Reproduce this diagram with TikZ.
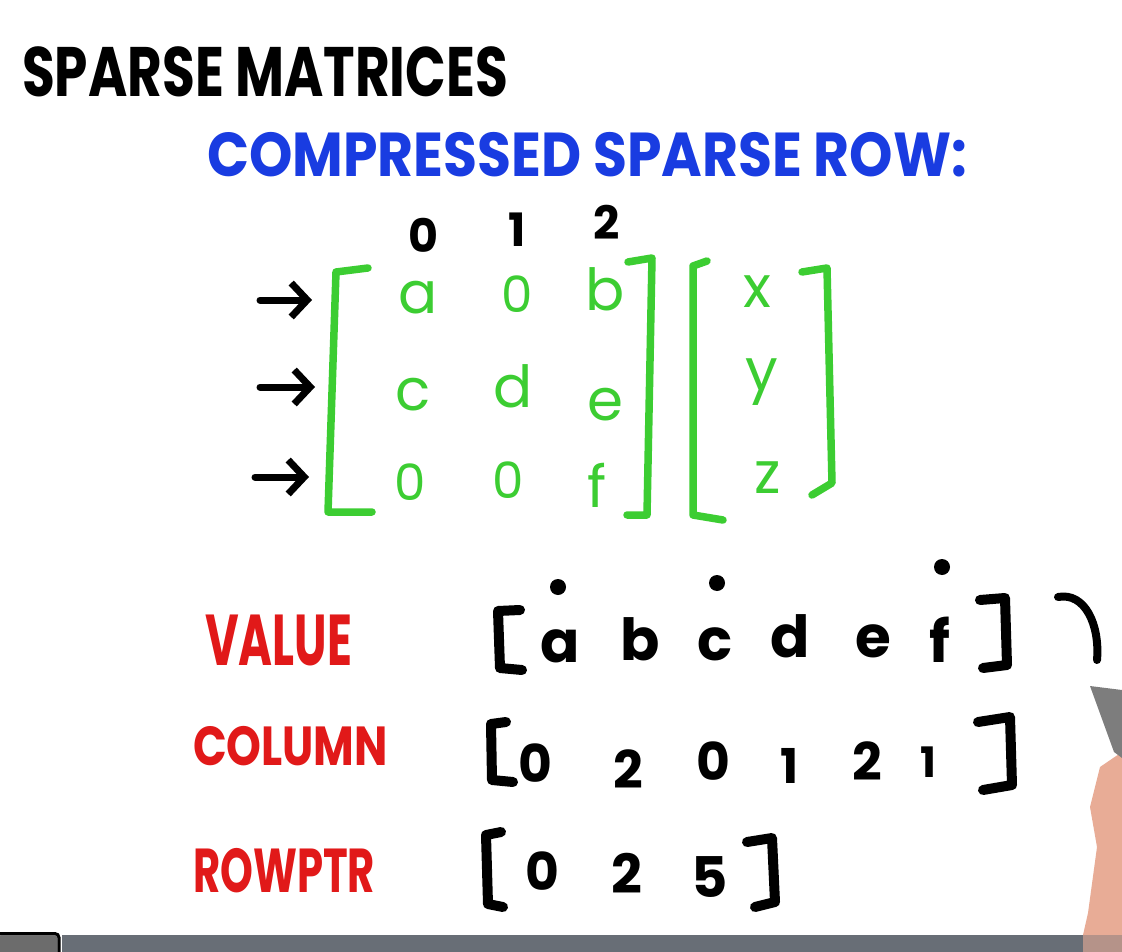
\documentclass[tikz,border=0pt]{standalone}
\usepackage{fontspec}
\usepackage{graphicx}
\setmainfont{Poppins}
\usetikzlibrary{arrows.meta}
\definecolor{mkgreen}{RGB}{60,205,50}
\definecolor{mkblue}{RGB}{25,60,225}
\definecolor{mkred}{RGB}{225,25,25}
\definecolor{bargray}{RGB}{104,110,118}
\definecolor{skin}{RGB}{232,172,150}
\definecolor{pengray}{RGB}{125,125,125}
\newcommand\fitto[2]{\resizebox{#1}{\height}{#2}}
\newcommand\fs[1]{\fontsize{#1}{#1}\selectfont}
\begin{document}
\begin{tikzpicture}[x=1pt,y=-1pt,
  lbl/.style={inner sep=0pt,outer sep=0pt,anchor=base west},
  ent/.style={inner sep=0pt,outer sep=0pt,anchor=base},
  grn/.style={ent,text=mkgreen,font=\fs{58}},
  blk/.style={ent,text=black,font=\fs{58}\bfseries},
  gbr/.style={draw=mkgreen,line width=7.5pt,line cap=round,line join=round},
  kbr/.style={draw=black,line width=10pt,line cap=round,line join=round},
  rowarrow/.style={draw=black,line width=7pt,line cap=round,-{Straight Barb[length=16pt,width=34pt,line width=7pt]}},
  dotmark/.style={fill=black,draw=none}]
\useasboundingbox (0,0) rectangle (1122,952);
\fill[white] (0,0) rectangle (1122,952);

% titles
\node[lbl,font=\fs{70}\bfseries] (title) at (22,97) {\fitto{486pt}{SPARSE MATRICES}};
\node[lbl,text=mkblue,font=\fs{62}\bfseries] (csr) at (207,177) {\fitto{760pt}{COMPRESSED SPARSE ROW:}};

% column indices
\node[ent,font=\fs{46}\bfseries] (h0) at (423,252) {0};
\node[ent,font=\fs{46}\bfseries] (h1) at (517,247) {1};
\node[ent,font=\fs{46}\bfseries] (h2) at (607,240) {2};

% matrix entries
\node[grn] (m11) at (418,313) {a};
\node[grn,font=\fs{50}] (m12) at (517,312) {0};
\node[grn] (m13) at (605,310) {b};
\node[grn] (m21) at (413,410) {c};
\node[grn] (m22) at (513,407) {d};
\node[grn] (m23) at (605,420) {e};
\node[grn,font=\fs{50}] (m31) at (410,500) {0};
\node[grn,font=\fs{50}] (m32) at (508,498) {0};
\node[grn] (m33) at (597,507) {f};

% vector entries
\node[grn] (vx) at (757,307) {x};
\node[grn] (vy) at (762,390) {y};
\node[grn] (vz) at (768,493) {z};

% matrix brackets
\draw[gbr] (368,268) -- (336,272) -- (328,512) -- (372,512);
\draw[gbr] (628,262) -- (652,258) -- (647,515) -- (627,515);
\draw[gbr] (707,261) -- (693,266) -- (693,515) -- (723,520);
\draw[gbr] (802,272) -- (827,268) -- (832,483) -- (812,495);

% row arrows
\coordinate (a1s) at (260,300); \coordinate (a1e) at (312,300);
\coordinate (a2s) at (260,387); \coordinate (a2e) at (315,387);
\coordinate (a3s) at (255,477); \coordinate (a3e) at (309,477);
\draw[rowarrow] (a1s) -- (a1e);
\draw[rowarrow] (a2s) -- (a2e);
\draw[rowarrow] (a3s) -- (a3e);

% labels
\node[lbl,text=mkred,font=\fs{72}\bfseries] (lval) at (205,665) {\fitto{147pt}{VALUE}};
\node[lbl,text=mkred,font=\fs{55}\bfseries] (lcol) at (193,765) {\fitto{195pt}{COLUMN}};
\node[lbl,text=mkred,font=\fs{62}\bfseries] (lrow) at (193,892) {\fitto{182pt}{ROWPTR}};

% value array
\draw[kbr] (520,610) -- (498,611) -- (500,668) -- (522,670);
\draw[kbr] (980,600) -- (1005,598) -- (1007,665) -- (983,668);
\node[blk] (va) at (560,662) {a};
\node[blk] (vb) at (640,660) {b};
\node[blk] (vc) at (715,660) {c};
\node[blk] (vd) at (790,657) {d};
\node[blk] (ve) at (873,657) {e};
\node[blk] (vf) at (940,662) {f};
\fill[dotmark] (558,587) circle (8);
\fill[dotmark] (717,583) circle (8);
\fill[dotmark] (942,567) circle (8);
\draw[kbr,line width=8pt] (1058,597) .. controls (1085,592) and (1100,625) .. (1097,660);

% column array
\draw[kbr] (506,722) -- (491,724) -- (492,780) -- (513,782);
\draw[kbr] (978,722) -- (1010,717) -- (1012,785) -- (983,790);
\node[blk,font=\fs{52}\bfseries] (c1) at (535,782) {0};
\node[blk,font=\fs{52}\bfseries] (c2) at (628,788) {2};
\node[blk,font=\fs{52}\bfseries] (c3) at (713,780) {0};
\node[blk,font=\fs{48}\bfseries] (c4) at (790,783) {1};
\node[blk,font=\fs{52}\bfseries] (c5) at (867,780) {2};
\node[blk,font=\fs{42}\bfseries] (c6) at (928,777) {1};

% rowptr array
\draw[kbr] (501,832) -- (486,835) -- (488,904) -- (503,907);
\draw[kbr] (747,842) -- (772,838) -- (775,902) -- (755,907);
\node[blk,font=\fs{52}\bfseries] (r1) at (542,890) {0};
\node[blk,font=\fs{54}\bfseries] (r2) at (627,893) {2};
\node[blk,font=\fs{56}\bfseries] (r3) at (710,897) {5};

% pen and hand
\fill[skin] (1122,752) -- (1100,767) -- (1090,807) -- (1097,847) -- (1088,913) -- (1083,935) -- (1122,935) -- cycle;
\fill[pengray] (1090,686) -- (1122,690) -- (1122,758) -- (1114,752) -- cycle;

% bottom bar
\fill[bargray] (62,935) rectangle (1122,952);
\fill[skin!60!bargray] (1083,935) rectangle (1122,952);
\draw[black,line width=3pt,fill=gray,rounded corners=4pt] (-5,933.5) -- (59,933.5) -- (59,960);
\fill[gray!85!black] (0,936) rectangle (57,952);
\end{tikzpicture}
\end{document}
